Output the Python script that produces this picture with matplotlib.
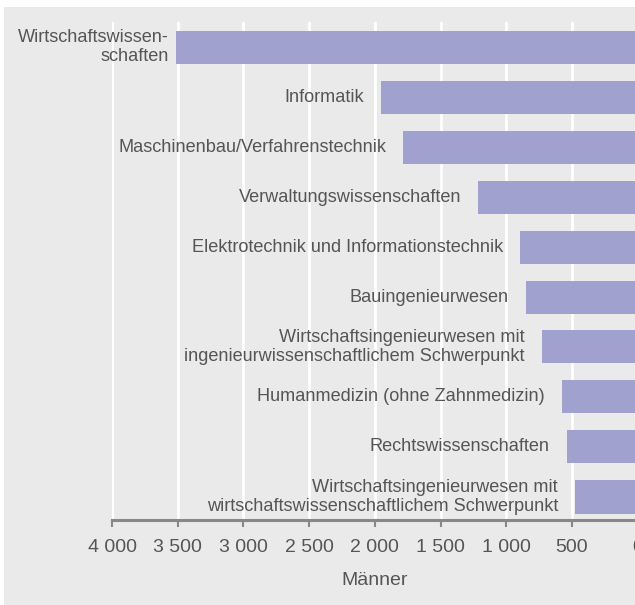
import matplotlib
matplotlib.use("Agg")
import matplotlib.pyplot as plt
from matplotlib.patches import Rectangle
from matplotlib.ticker import FuncFormatter, MultipleLocator

# Studienfächer (Männer), von oben nach unten
faecher = [
    "Wirtschaftswissen-\nschaften",
    "Informatik",
    "Maschinenbau/Verfahrenstechnik",
    "Verwaltungswissenschaften",
    "Elektrotechnik und Informationstechnik",
    "Bauingenieurwesen",
    "Wirtschaftsingenieurwesen mit\ningenieurwissenschaftlichem Schwerpunkt",
    "Humanmedizin (ohne Zahnmedizin)",
    "Rechtswissenschaften",
    "Wirtschaftsingenieurwesen mit\nwirtschaftswissenschaftlichem Schwerpunkt",
]
maenner = [3510, 1950, 1785, 1215, 895, 850, 730, 575, 540, 476]

plt.rcParams['font.family'] = ['Liberation Sans', 'DejaVu Sans']

bar_color = '#a1a1cf'
bg_color = '#eaeaeb'
text_color = '#555555'

fig = plt.figure(figsize=(6.35, 6.05), dpi=100)
fig.patch.set_facecolor('white')
fig.patches.append(Rectangle((4 / 635, 0), 1, 598 / 605, transform=fig.transFigure,
                             facecolor=bg_color, edgecolor='none', zorder=-10))

ax = fig.add_axes([112 / 635, 85 / 605, 525.6 / 635, 498 / 605])
ax.set_facecolor('none')

y = list(range(len(faecher)))
ax.barh(y, maenner, height=0.66, color=bar_color, zorder=3)

for yi, (name, val) in enumerate(zip(faecher, maenner)):
    gap = 8 if yi == 0 else 17  # first label sits tight against the left edge
    ax.annotate(name, xy=(val, yi), xytext=(-gap, 0), textcoords='offset pixels',
                ha='right', va='center', fontsize=13.1, color=text_color,
                linespacing=1.2, multialignment='right', zorder=4)

ax.set_xlim(4000, 0)
ax.set_ylim(9.46, -0.5)
ax.xaxis.set_major_locator(MultipleLocator(500))
ax.xaxis.set_major_formatter(FuncFormatter(lambda v, p: f"{int(v):,}".replace(",", " ")))
ax.set_yticks([])

ax.grid(axis='x', color='white', linewidth=2, zorder=0)
ax.set_axisbelow(True)
for s in ['left', 'right', 'top']:
    ax.spines[s].set_visible(False)
ax.spines['bottom'].set_color('#888888')
ax.spines['bottom'].set_linewidth(2.2)
ax.tick_params(axis='x', length=5, width=1.5, color='#888888', pad=9,
               labelsize=14, labelcolor=text_color)
ax.set_xlabel("Männer", fontsize=14, color=text_color, labelpad=11)

fig.savefig("out.png", dpi=100)
